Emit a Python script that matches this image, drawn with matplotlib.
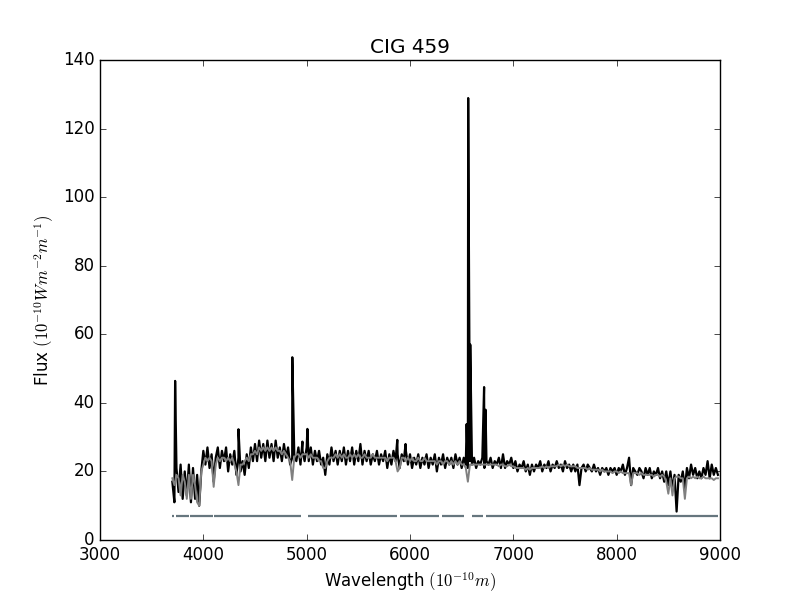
import numpy as np
import matplotlib
matplotlib.use("Agg")
import matplotlib.pyplot as plt

# ---------------- data ----------------
wave_start, wave_step = 3700, 20  # sampling grid of the spectrum (Angstrom)

obs_flux = [
    17, 11, 21, 14, 22,   12, 20, 13, 22, 11,   21, 12, 19, 10, 20,
    26, 22, 27, 21, 25,   17, 24, 27, 21, 26,   23, 27, 20, 25, 22,
    26, 19, 24, 20, 23,   19, 25, 21, 27, 23,   28, 23, 29, 24, 28,
    23, 29, 24, 28, 23,   29, 24, 27, 23, 28,   24, 27, 22, 24, 25,
    23, 27, 22, 26, 23,   27, 23, 27, 22, 26,   23, 26, 22, 24, 19,
    25, 22, 27, 23, 26,   22, 26, 23, 27, 22,   26, 23, 27, 22, 26,
    23, 28, 22, 26, 23,   26, 22, 25, 23, 26,   22, 25, 23, 26, 21,
    25, 22, 26, 23, 25,   21, 25, 23, 26, 22,   25, 21, 24, 22, 25,
    21, 24, 22, 25, 21,   24, 22, 25, 20, 24,   22, 25, 21, 24, 22,
    24, 21, 25, 22, 24,   21, 24, 22, 21, 23,   22, 24, 21, 23, 22,
    24, 21, 23, 22, 24,   21, 23, 22, 24, 21,   25, 21, 23, 22, 24,
    21, 23, 20, 22, 21,   23, 20, 22, 19, 22,   20, 22, 21, 23, 20,
    22, 21, 23, 20, 22,   21, 23, 21, 22, 20,   23, 21, 22, 20, 22,
    20, 22, 16, 21, 22,   20, 22, 21, 20, 22,   20, 21, 19, 21, 20,
    21, 19, 21, 20, 21,   19, 21, 20, 22, 19,   21, 24, 16, 21, 20,
    19, 21, 20, 18, 21,   19, 21, 18, 20, 19,   21, 18, 20, 17, 20,
    16, 20, 15, 19, 8.3,  19, 17, 20, 15, 21,   18, 22, 19, 21, 18,
    20, 18, 21, 19, 23,   18, 22, 19, 21, 19,
]

model_flux = [
    18, 16, 19, 18, 13,   19, 17, 12, 19, 12,   19, 16, 11, 10, 20,
    22, 24, 23, 24, 23,   15.5, 22, 24, 23, 24, 24, 23, 24, 23, 24,
    22, 20, 16, 22, 22,   23, 24, 23, 25, 25,   26, 25, 27, 26, 27,
    26, 27, 26, 27, 26,   27, 26, 26, 25, 26,   25, 24, 23, 17.5, 24,
    25, 25, 24, 25, 25,   25, 24, 25, 24, 24,   24, 23, 23, 21, 21,
    23, 24, 24, 24, 25,   24, 25, 24, 25, 24,   24, 25, 24, 25, 24,
    25, 24, 24, 25, 24,   24, 24, 25, 24, 24,   24, 24, 24, 24, 23,
    24, 24, 24, 23, 20,   21, 24, 24, 23, 24,   23, 24, 23, 23, 24,
    23, 23, 24, 23, 23,   23, 23, 23, 22, 23,   23, 22, 23, 23, 22,
    23, 22, 23, 22, 23,   22, 22, 21, 17, 22,   22, 22, 22, 22, 22,
    22, 22, 22, 22, 22,   22, 22, 22, 21.5, 22, 22, 21.5, 21.5, 22, 21.5,
    21.5, 21, 21, 21, 21, 21, 20.5, 21, 20.5, 21, 21, 21, 21, 21, 21.5,
    21, 21.5, 21, 21.5, 21.5, 21.5, 21.5, 22, 21.5, 22, 21.5, 22, 21.5, 21.5, 21.5,
    21.5, 21, 21, 21, 21, 21, 20.5, 21, 20.5, 20.5, 20.5, 20.5, 20, 20.5, 20,
    20, 20, 20, 19.5, 20, 20, 19.5, 20, 19.5, 19.5, 19.5, 19.5, 16, 19.5, 19.5,
    19.5, 19, 19.5, 19, 19, 19, 19, 19, 18.5, 19, 19, 18.5, 19, 18.5, 17,
    13.5, 18, 13, 18, 18.5, 18.5, 18, 18, 12, 18, 18.5, 18, 18.5, 18, 18.5,
    18, 18, 18.5, 18, 18, 18, 18, 17.5, 18, 18,
]

# emission lines in the observed spectrum
line_wave = [3727, 4340, 4861, 4959, 5007, 5877, 5957, 6548, 6563, 6583, 6717, 6731]
line_peak = [46.4, 32.3, 53.3, 28.7, 32.4, 29.2, 28.0, 33.8, 128.9, 57.0, 44.6, 38.0]

# masked-region bar (start, end) in Angstrom, plotted at constant flux level
mask_start = [3700, 3733, 3871, 4103, 5009, 5903, 6310, 6600, 6735]
mask_end = [3716, 3864, 4091, 4942, 5871, 6284, 6526, 6703, 8977]
mask_level = 7

title = "CIG 459"
xlabel = r"Wavelength $(10^{-10} m)$"
ylabel = r"Flux $(10^{-10} W m^{-2} m^{-1})$"

# ---------------- plotting ----------------
plt.style.use("classic")

grid = wave_start + wave_step * np.arange(len(obs_flux))
w_obs = np.concatenate([grid, line_wave])
f_obs = np.concatenate([obs_flux, line_peak])
order = np.argsort(w_obs, kind="stable")
w_obs, f_obs = w_obs[order], f_obs[order]

grid_m = wave_start + wave_step * np.arange(len(model_flux))

fig = plt.figure(figsize=(8, 6), dpi=100, facecolor="white")
ax = fig.add_subplot(111)
fig.subplots_adjust(left=0.125, right=0.9, bottom=0.1, top=0.9)

ax.plot(w_obs, f_obs, color="black", lw=1.6)
ax.plot(grid_m, model_flux, color="#808080", lw=1.4)
for s, e in zip(mask_start, mask_end):
    ax.plot([s, e], [mask_level, mask_level], color="#66767e", lw=1.6,
            solid_capstyle="butt")

ax.set_xlim(3000, 9000)
ax.set_ylim(0, 140)
ax.set_xticks(np.arange(3000, 9001, 1000))
ax.set_yticks(np.arange(0, 141, 20))
ax.set_title(title)
ax.set_xlabel(xlabel)
ax.set_ylabel(ylabel)

fig.savefig("out.png", dpi=100, facecolor="white")
